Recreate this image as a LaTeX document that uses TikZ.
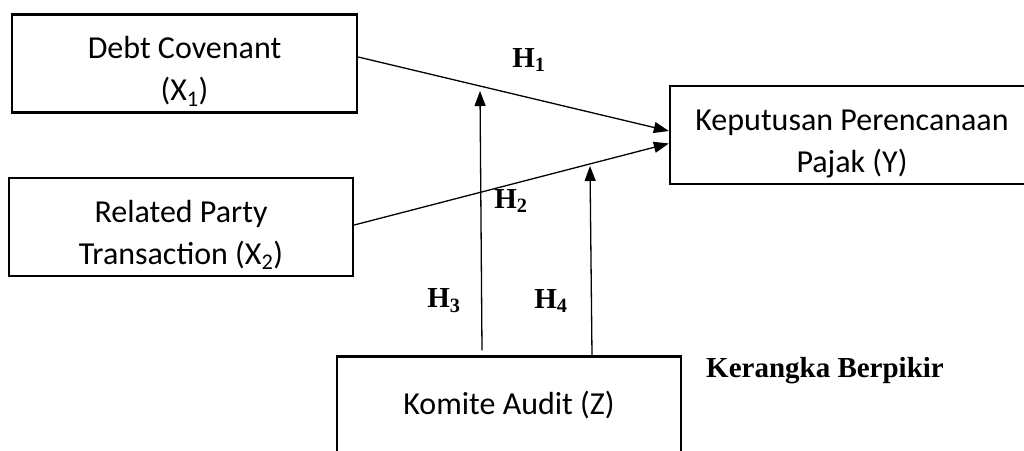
\documentclass[tikz,border=0pt]{standalone}
\usepackage{fontspec}
\setmainfont{Carlito}
\newfontfamily\tnr{Liberation Serif}
\usetikzlibrary{arrows.meta,calc}
\newcommand\mystrut{\rule{0pt}{38pt}}
\begin{document}
\begin{tikzpicture}[x=1pt,y=-1pt,
  box/.style={draw,line width=2.4pt,minimum width=#1,minimum height=98pt,inner sep=0pt,align=center,font=\fontsize{32}{42}\selectfont},
  conn/.style={line width=1.3pt,-{Triangle[length=15pt,width=11pt]}},
  hyp/.style={font=\tnr\bfseries\fontsize{29}{30}\selectfont,inner sep=0pt}]
\path[use as bounding box,clip] (0,0) rectangle (1024,450);
% boxes
\node[box=345pt] (b1) at (184.5,63.5) {\mystrut Debt Covenant\\(X\textsubscript{1})};
\node[box=344pt] (b2) at (181,227) {\mystrut Related Party\\Transaction (X\textsubscript{2})};
\node[box=364pt] (yb) at (852,135) {\mystrut Keputusan Perencanaan\\Pajak (Y)};
\node[box=344pt] (zb) at (509,405.5) {Komite Audit (Z)};
% connector points
\coordinate (s1) at ($(b1.east)+(0,-6.5)$);
\coordinate (t1) at ($(yb.west)+(0,-4)$);
\coordinate (s2) at ($(b2.east)+(0,-2)$);
\coordinate (t2) at ($(yb.west)+(0,8.5)$);
\coordinate (z3) at ($(zb.north)+(-27,-5)$);
\coordinate (m3) at (480,91);
\coordinate (z4) at ($(zb.north)+(83,0)$);
\coordinate (m4) at (590,166);
% connectors
\draw[conn] (s1) -- (t1);
\draw[conn] (s2) -- (t2);
\draw[conn] (z3) -- (m3);
\draw[conn] (z4) -- (m4);
% labels
\node[hyp] (h1) at (529,60) {H\textsubscript{1}};
\node[hyp] (h2) at (511,201) {H\textsubscript{2}};
\node[hyp] (h3) at (444,301) {H\textsubscript{3}};
\node[hyp] (h4) at (551,301) {H\textsubscript{4}};
\node[hyp,anchor=base west] (kb) at (706,377) {Kerangka Berpikir};
\end{tikzpicture}
\end{document}
